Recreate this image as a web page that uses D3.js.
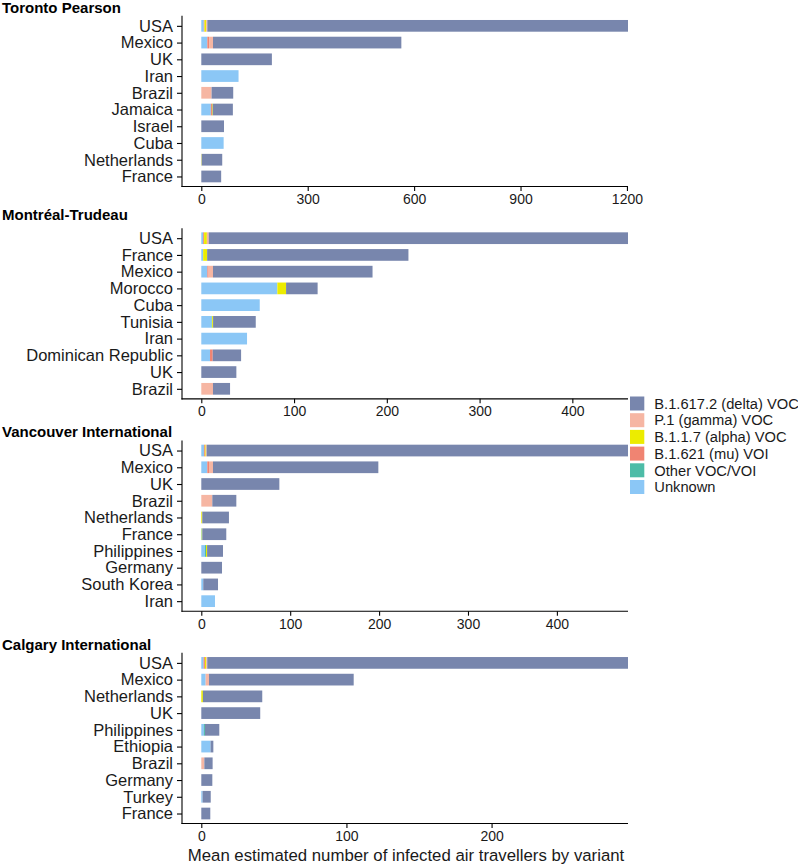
<!DOCTYPE html>
<html>
<head>
<meta charset="utf-8">
<script src="https://cdn.jsdelivr.net/npm/d3@7"></script>
<style>
  html, body { margin: 0; padding: 0; background: #fff; }
  svg { display: block; font-family: "Liberation Sans", Arial, sans-serif; }
</style>
</head>
<body>
<svg id="chart" width="798" height="865"></svg>
<script>
// ---------- DATA ----------
const variants = ["B.1.617.2 (delta) VOC", "P.1 (gamma) VOC", "B.1.1.7 (alpha) VOC", "B.1.621 (mu) VOI", "Other VOC/VOI", "Unknown"];
const variantColors = ["#7886ad", "#f6b6a3", "#ecec00", "#f08472", "#4dbca7", "#8bc7f6"];

const panelTitles = ["Toronto Pearson", "Montréal-Trudeau", "Vancouver International", "Calgary International"];

const torontoCountries = ["USA", "Mexico", "UK", "Iran", "Brazil", "Jamaica", "Israel", "Cuba", "Netherlands", "France"];
const torontoDelta   = [1186, 531, 199, 0, 61, 57, 64, 0, 58, 56];
const torontoGamma   = [3, 11, 0, 0, 29, 0, 0, 0, 0, 0];
const torontoAlpha   = [5, 0, 0, 0, 0, 2, 0, 0, 1, 0];
const torontoMu      = [2, 5, 0, 0, 0, 3, 0, 0, 0, 0];
const torontoOther   = [0, 0, 0, 0, 0, 0, 0, 0, 0, 0];
const torontoUnknown = [7, 17, 0, 105, 0, 27, 0, 63, 0, 0];
const torontoTicks   = [0, 300, 600, 900, 1200];

const montrealCountries = ["USA", "France", "Mexico", "Morocco", "Cuba", "Tunisia", "Iran", "Dominican Republic", "UK", "Brazil"];
const montrealDelta   = [452, 217, 172, 34, 0, 46, 0, 30.6, 37.8, 18.4];
const montrealGamma   = [2, 0, 4.7, 0, 0, 0, 0, 0, 0, 12.6];
const montrealAlpha   = [3, 4.3, 0, 9.4, 0, 1, 0, 0, 0, 0];
const montrealMu      = [1, 0, 1.4, 0, 0, 0, 0, 2.9, 0, 0];
const montrealOther   = [0, 0, 0, 0, 0, 0.5, 0, 0, 0, 0];
const montrealUnknown = [2, 2, 6.5, 82, 63, 11.2, 49.3, 9.4, 0, 0];
const montrealTicks   = [0, 100, 200, 300, 400];

const vancouverCountries = ["USA", "Mexico", "UK", "Brazil", "Netherlands", "France", "Philippines", "Germany", "South Korea", "Iran"];
const vancouverDelta   = [474, 186, 87.8, 27, 30, 27, 17.9, 23.3, 16.6, 0];
const vancouverGamma   = [1, 4.5, 0, 12.4, 0, 0, 0, 0, 0, 0];
const vancouverAlpha   = [1, 0, 0, 0, 1.1, 0.6, 1.2, 0, 0, 0];
const vancouverMu      = [1, 1.9, 0, 0, 0, 0, 0, 0, 0, 0];
const vancouverOther   = [0, 0, 0, 0, 0, 0.5, 1.2, 0, 0, 0];
const vancouverUnknown = [3, 6.75, 0, 0, 0, 0, 4.1, 0, 2.2, 15.4];
const vancouverTicks   = [0, 100, 200, 300, 400];

const calgaryCountries = ["USA", "Mexico", "Netherlands", "UK", "Philippines", "Ethiopia", "Brazil", "Germany", "Turkey", "France"];
const calgaryDelta   = [289.9, 99.7, 40.9, 40.6, 9.9, 1.9, 5.7, 7.6, 5.6, 6.2];
const calgaryGamma   = [0.7, 2.3, 0, 0, 0, 0, 2.1, 0, 0, 0];
const calgaryAlpha   = [0.9, 0, 1.1, 0, 0, 0, 0, 0, 0, 0];
const calgaryMu      = [0.9, 0, 0, 0, 0, 0, 0, 0, 0, 0];
const calgaryOther   = [0, 0, 0, 0, 0.7, 0, 0, 0, 0, 0];
const calgaryUnknown = [1.6, 3, 0, 0, 1.8, 6.4, 0, 0, 0.9, 0];
const calgaryTicks   = [0, 100, 200];

const xAxisTitle = "Mean estimated number of infected air travellers by variant";

// ---------- BUILD PANELS ----------
const panels = [
  { countries: torontoCountries, series: [torontoDelta, torontoGamma, torontoAlpha, torontoMu, torontoOther, torontoUnknown], ticks: torontoTicks },
  { countries: montrealCountries, series: [montrealDelta, montrealGamma, montrealAlpha, montrealMu, montrealOther, montrealUnknown], ticks: montrealTicks },
  { countries: vancouverCountries, series: [vancouverDelta, vancouverGamma, vancouverAlpha, vancouverMu, vancouverOther, vancouverUnknown], ticks: vancouverTicks },
  { countries: calgaryCountries, series: [calgaryDelta, calgaryGamma, calgaryAlpha, calgaryMu, calgaryOther, calgaryUnknown], ticks: calgaryTicks }
];

const svg = d3.select("#chart");
const panelLeft = 182, zeroX = 201.3, panelRight = 628;
const firstTop = 15.8, panelStep = 212.35, panelH = 170.7;
const titleOffsets = [3.3, 8.2, 3.6, 3.3];
const textColor = "#1a1a1a";

// stacking order from zero: Unknown, Other, mu, alpha, gamma, delta
const stackOrder = [5, 4, 3, 2, 1, 0];

panels.forEach((p, pi) => {
  const top = firstTop + pi * panelStep;
  const bottom = top + panelH;
  const rows = p.countries.map((c, i) => {
    const r = { country: c };
    variants.forEach((v, vi) => r[v] = p.series[vi][i]);
    return r;
  });
  const keys = stackOrder.map(i => variants[i]);
  const stacked = d3.stack().keys(keys)(rows);
  const maxTotal = d3.max(rows, r => d3.sum(variants, v => r[v]));

  const x = d3.scaleLinear().domain([0, maxTotal]).range([zeroX, panelRight]);
  const y = d3.scalePoint().domain(p.countries).range([top, bottom]).padding(0.6);
  const barH = y.step() * 0.7;

  const g = svg.append("g");

  // title
  g.append("text")
    .attr("x", 2).attr("y", top - titleOffsets[pi])
    .attr("font-size", "15px").attr("font-weight", "bold")
    .attr("fill", "#000")
    .text(panelTitles[pi]);

  // bars
  stacked.forEach(layer => {
    const vi = variants.indexOf(layer.key);
    g.append("g").attr("fill", variantColors[vi])
      .selectAll("rect").data(layer.filter(d => d[1] - d[0] > 0)).join("rect")
      .attr("x", d => x(d[0]))
      .attr("width", d => x(d[1]) - x(d[0]))
      .attr("y", d => y(d.data.country) - barH / 2)
      .attr("height", barH);
  });

  // y axis
  const yAxis = d3.axisLeft(y).tickSize(5).tickPadding(4).tickSizeOuter(0);
  const yg = g.append("g").attr("transform", `translate(${panelLeft},0)`).call(yAxis);
  yg.select(".domain").remove();
  yg.selectAll(".tick line").attr("stroke", "#000").attr("stroke-width", 1.1);
  yg.selectAll(".tick text").attr("font-size", "16.5px").attr("fill", textColor)
    .attr("font-family", "'Liberation Sans', Arial, sans-serif");

  // x axis
  const xAxis = d3.axisBottom(x).tickValues(p.ticks).tickFormat(d3.format("d"))
    .tickSize(4.5).tickPadding(3).tickSizeOuter(0);
  const xg = g.append("g").attr("transform", `translate(0,${bottom})`).call(xAxis);
  xg.select(".domain").remove();
  xg.selectAll(".tick line").attr("stroke", "#000").attr("stroke-width", 1.1);
  xg.selectAll(".tick text").attr("font-size", "14px").attr("fill", textColor)
    .attr("font-family", "'Liberation Sans', Arial, sans-serif");

  // axis lines
  g.append("line").attr("x1", panelLeft).attr("x2", panelLeft).attr("y1", top).attr("y2", bottom + 0.55)
    .attr("stroke", "#000").attr("stroke-width", 1.1);
  g.append("line").attr("x1", panelLeft - 0.55).attr("x2", panelRight).attr("y1", bottom).attr("y2", bottom)
    .attr("stroke", "#000").attr("stroke-width", 1.1);
});

// x axis title
svg.append("text")
  .attr("x", (panelLeft + panelRight) / 2 + 1).attr("y", 860.5)
  .attr("text-anchor", "middle").attr("font-size", "16.8px").attr("fill", textColor)
  .text(xAxisTitle);

// legend
const legend = svg.append("g").attr("transform", "translate(630,396.5)");
variants.forEach((v, i) => {
  const item = legend.append("g").attr("transform", `translate(0,${i * 16.7})`);
  item.append("rect").attr("width", 14.3).attr("height", 14).attr("fill", variantColors[i]);
  item.append("text").attr("x", 24.3).attr("y", 12.2).attr("font-size", "14.7px").attr("fill", textColor).text(v);
});
</script>
</body>
</html>
